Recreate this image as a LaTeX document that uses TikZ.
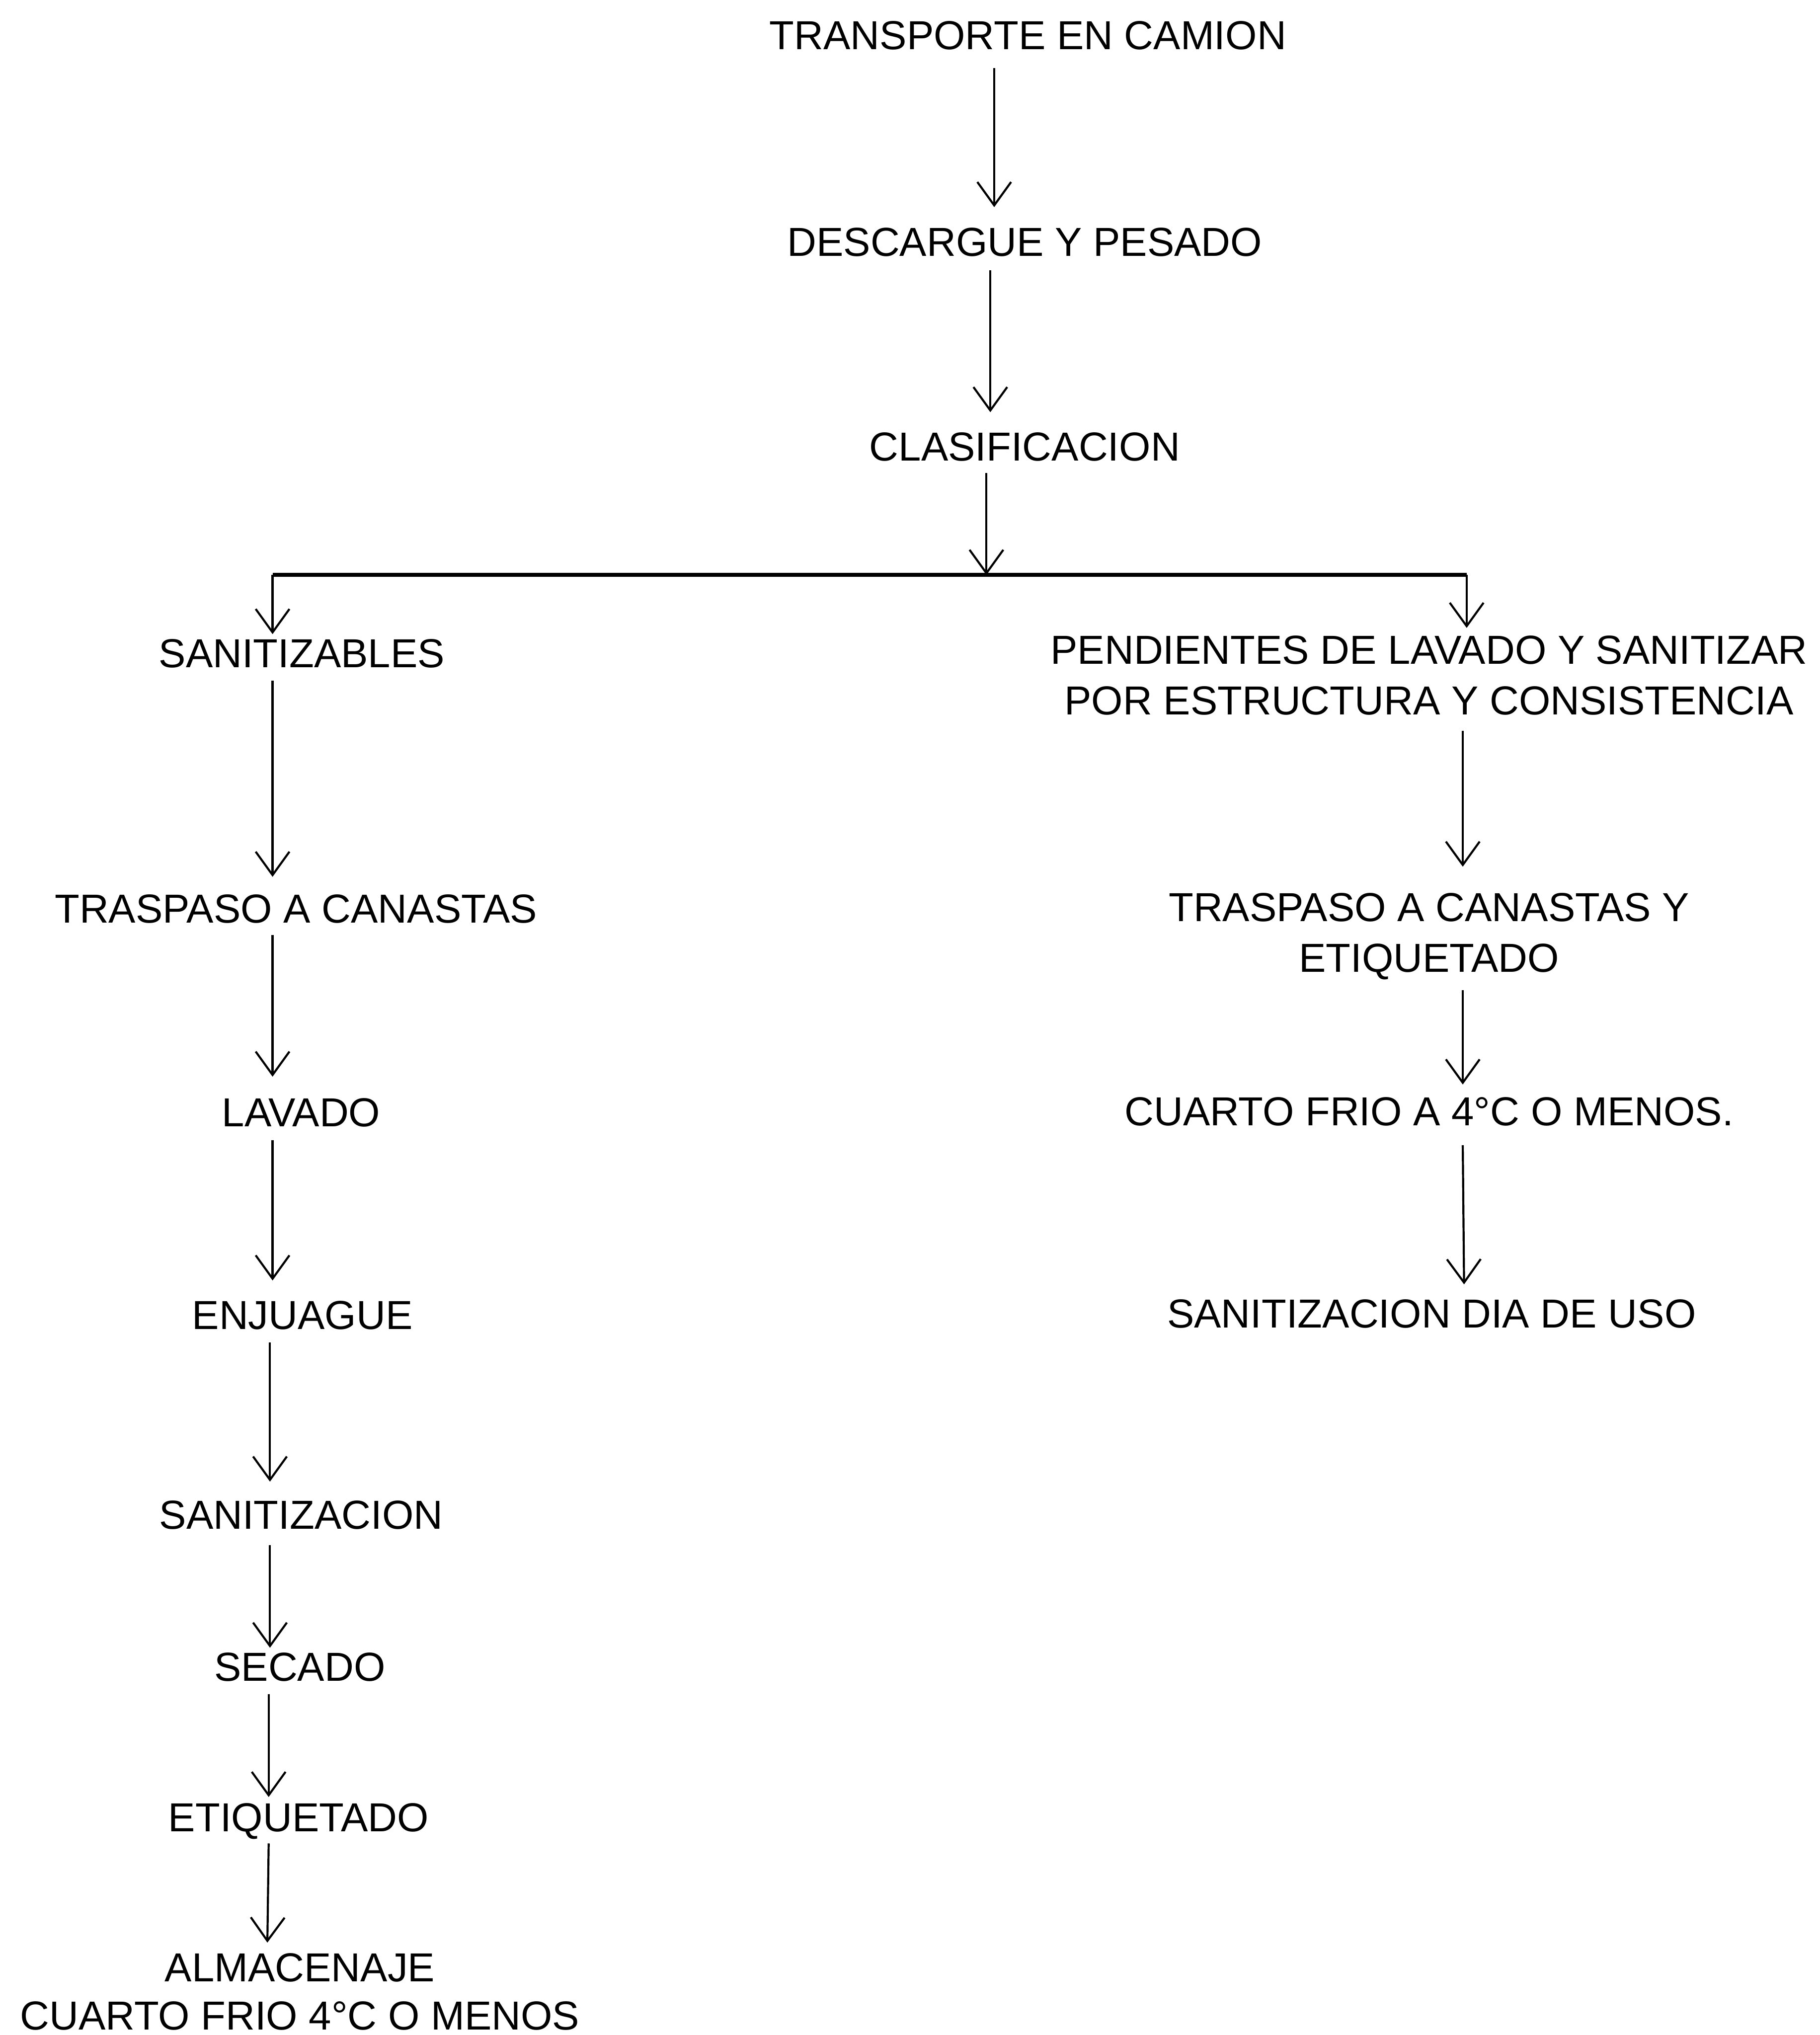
\documentclass[tikz,border=0pt]{standalone}
\usepackage{fontspec}
\setmainfont{Liberation Sans}
\usetikzlibrary{arrows.meta}
\begin{document}
\begin{tikzpicture}[x=1pt,y=-1pt,
  lbl/.style={inner sep=0pt, font=\fontsize{31.2}{39}\selectfont, text height=22.4pt, text depth=0pt},
  lbltwo/.style={inner sep=0pt, font=\fontsize{31.2}{39}\selectfont, align=center, anchor=north},
  flow/.style={line width=1.6pt, -{Straight Barb[length=18pt,width=26pt,line width=1.6pt]}},
  bar/.style={line width=3pt}]
\path[use as bounding box] (0,0) rectangle (1402,1568);

% main trunk
\node[lbl] (t1) at (792,27) {TRANSPORTE EN CAMION};
\node[lbl] (t2) at (789.5,186) {DESCARGUE Y PESADO};
\node[lbl] (t3) at (789.5,344) {CLASIFICACION};

% left branch
\node[lbl] (l1) at (232.5,503) {SANITIZABLES};
\node[lbl] (l2) at (228,700) {TRASPASO A CANASTAS};
\node[lbl] (l3) at (232,857) {LAVADO};
\node[lbl] (l4) at (233,1013) {ENJUAGUE};
\node[lbl] (l5) at (232,1167) {SANITIZACION};
\node[lbl] (l6) at (231,1284) {SECADO};
\node[lbl] (l7) at (230,1400) {ETIQUETADO};
\node[lbltwo, font=\fontsize{31.2}{37}\selectfont] (l8) at (231,1504.8) {ALMACENAJE\\CUARTO FRIO 4°C O MENOS};

% right branch
\node[lbltwo] (r1) at (1101,489.8) {PENDIENTES DE LAVADO Y SANITIZAR\\POR ESTRUCTURA Y CONSISTENCIA};
\node[lbltwo] (r2) at (1101,687.8) {TRASPASO A CANASTAS Y\\ETIQUETADO};
\node[lbl] (r3) at (1101,856) {CUARTO FRIO A 4°C O MENOS.};
\node[lbl] (r4) at (1103,1012) {SANITIZACION DIA DE USO};

% split bar
\coordinate (split) at (760,443);
\coordinate (barL) at (210,443);
\coordinate (barR) at (1130,443);

% trunk connectors
\draw[flow] ([xshift=-26pt,yshift=-14pt]t1.south) -- ([xshift=-23.5pt,yshift=15pt]t2.north);
\draw[flow] ([xshift=-26.5pt,yshift=-11pt]t2.south) -- ([xshift=-26.5pt,yshift=15pt]t3.north);
\draw[flow] ([xshift=-29.5pt,yshift=-9pt]t3.south) -- (split);
\draw[bar] (barL) -- (barR);
\draw[flow] (barL) -- ([xshift=-22.5pt,yshift=3pt]l1.north);
\draw[flow] (barR) -- ([xshift=29pt,yshift=6pt]r1.north);

% left column connectors
\draw[flow] ([xshift=-22.5pt,yshift=-10pt]l1.south) -- ([xshift=-18pt,yshift=13pt]l2.north);
\draw[flow] ([xshift=-18pt,yshift=-9pt]l2.south) -- ([xshift=-22pt,yshift=16pt]l3.north);
\draw[flow] ([xshift=-22pt,yshift=-10pt]l3.south) -- ([xshift=-23pt,yshift=15pt]l4.north);
\draw[flow] ([xshift=-25pt,yshift=-10pt]l4.south) -- ([xshift=-24pt,yshift=14pt]l5.north);
\draw[flow] ([xshift=-24pt,yshift=-12pt]l5.south) -- ([xshift=-23pt,yshift=3pt]l6.north);
\draw[flow] ([xshift=-24pt,yshift=-10pt]l6.south) -- ([xshift=-23pt,yshift=4pt]l7.north);
\draw[flow] ([xshift=-23pt,yshift=-9pt]l7.south) -- ([xshift=-25pt,yshift=8pt]l8.north);

% right column connectors
\draw[flow] ([xshift=26pt,yshift=-12pt]r1.south) -- ([xshift=26pt,yshift=20pt]r2.north);
\draw[flow] ([xshift=26pt,yshift=-8pt]r2.south) -- ([xshift=26pt,yshift=9pt]r3.north);
\draw[flow] ([xshift=26pt,yshift=-15pt]r3.south) -- ([xshift=25pt,yshift=11pt]r4.north);
\end{tikzpicture}
\end{document}
